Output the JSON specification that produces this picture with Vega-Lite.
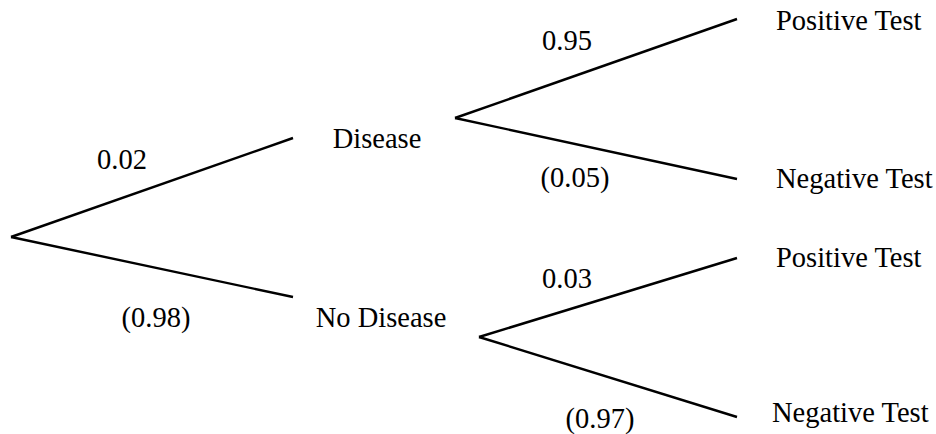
{
  "$schema": "https://vega.github.io/schema/vega-lite/v6.json",
  "width": 936,
  "height": 434,
  "padding": 0,
  "autosize": {"type": "fit", "contains": "padding"},
  "background": "white",
  "config": {"view": {"stroke": null}},
  "datasets": {
    "branches": [
      {"from": "Start", "to": "Disease", "x1": 11, "y1": 237, "x2": 293, "y2": 138},
      {"from": "Start", "to": "No Disease", "x1": 11, "y1": 237, "x2": 293, "y2": 297},
      {"from": "Disease", "to": "Positive Test", "x1": 455, "y1": 118, "x2": 737, "y2": 19},
      {"from": "Disease", "to": "Negative Test", "x1": 455, "y1": 118, "x2": 737, "y2": 179},
      {"from": "No Disease", "to": "Positive Test", "x1": 479, "y1": 337, "x2": 737, "y2": 258},
      {"from": "No Disease", "to": "Negative Test", "x1": 479, "y1": 337, "x2": 737, "y2": 417}
    ],
    "labels": [
      {"label": "0.02", "x": 122, "y": 169},
      {"label": "(0.98)", "x": 156, "y": 327},
      {"label": "Disease", "x": 377, "y": 148},
      {"label": "No Disease", "x": 381, "y": 327},
      {"label": "0.95", "x": 567, "y": 50},
      {"label": "(0.05)", "x": 575, "y": 187},
      {"label": "0.03", "x": 567, "y": 288},
      {"label": "(0.97)", "x": 600, "y": 428}
    ],
    "outcomes": [
      {"label": "Positive Test", "x": 776, "y": 30},
      {"label": "Negative Test", "x": 776, "y": 188},
      {"label": "Positive Test", "x": 776, "y": 267},
      {"label": "Negative Test", "x": 772, "y": 422}
    ]
  },
  "layer": [
    {
      "data": {"name": "branches"},
      "mark": {"type": "rule", "color": "black", "strokeWidth": 2.4},
      "encoding": {
        "x": {"field": "x1", "type": "quantitative", "scale": {"domain": [0, 936]}, "axis": null},
        "y": {"field": "y1", "type": "quantitative", "scale": {"domain": [0, 434], "reverse": true}, "axis": null},
        "x2": {"field": "x2"},
        "y2": {"field": "y2"}
      }
    },
    {
      "data": {"name": "labels"},
      "mark": {"type": "text", "font": "Times New Roman, Liberation Serif, serif", "fontSize": 28.5, "baseline": "alphabetic", "align": "center", "color": "black"},
      "encoding": {
        "x": {"field": "x", "type": "quantitative", "scale": {"domain": [0, 936]}, "axis": null},
        "y": {"field": "y", "type": "quantitative", "scale": {"domain": [0, 434], "reverse": true}, "axis": null},
        "text": {"field": "label"}
      }
    },
    {
      "data": {"name": "outcomes"},
      "mark": {"type": "text", "font": "Times New Roman, Liberation Serif, serif", "fontSize": 28.5, "baseline": "alphabetic", "align": "left", "color": "black"},
      "encoding": {
        "x": {"field": "x", "type": "quantitative", "scale": {"domain": [0, 936]}, "axis": null},
        "y": {"field": "y", "type": "quantitative", "scale": {"domain": [0, 434], "reverse": true}, "axis": null},
        "text": {"field": "label"}
      }
    }
  ]
}
